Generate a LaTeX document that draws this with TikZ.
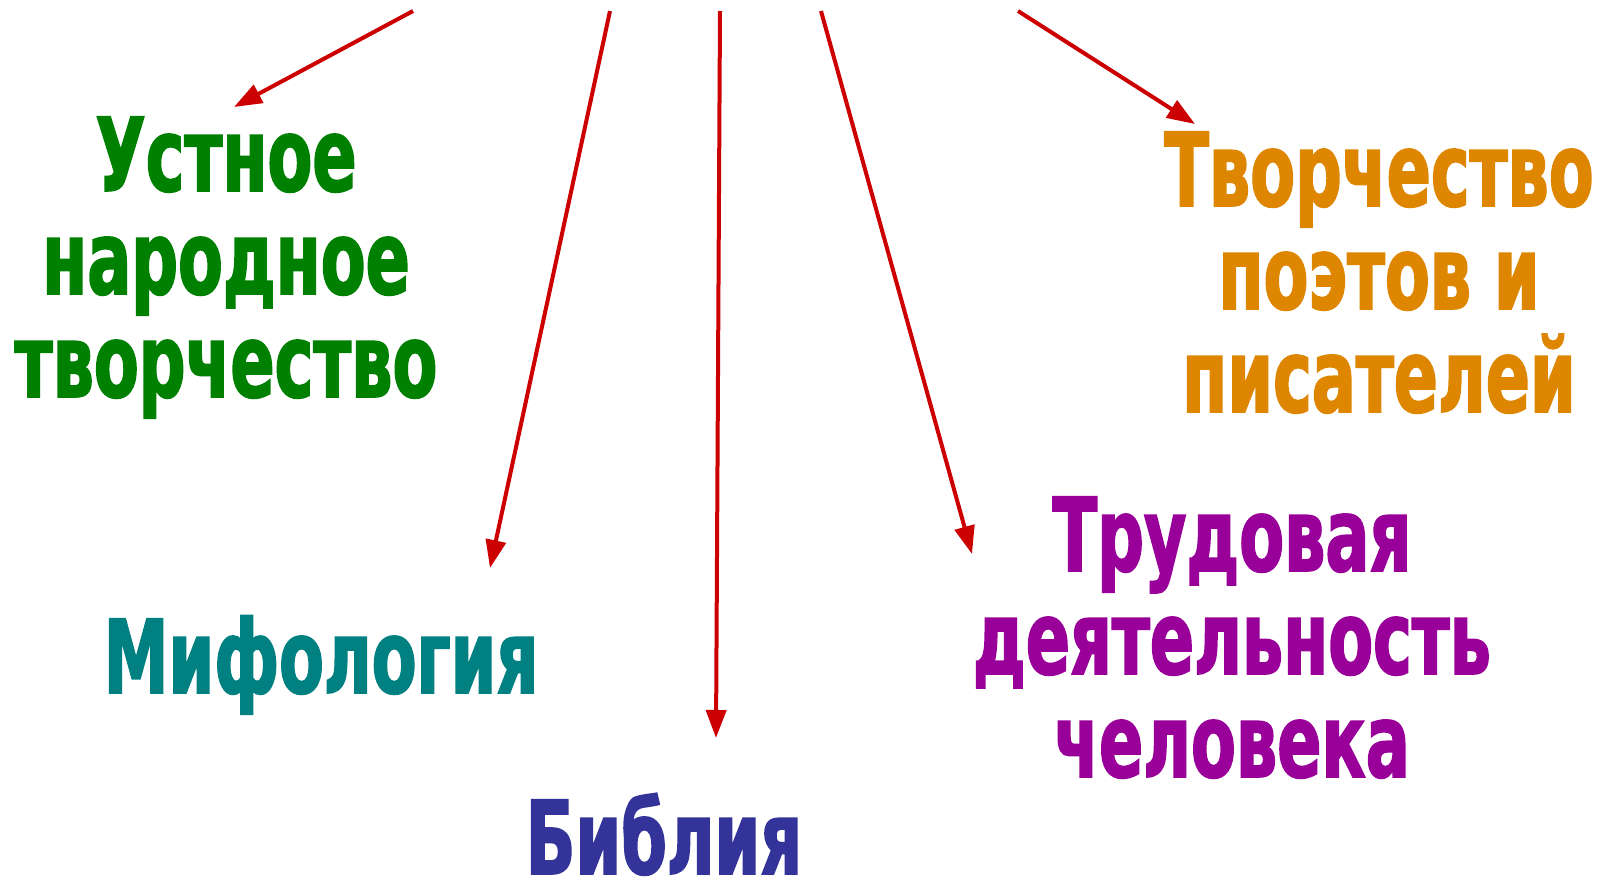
\documentclass[tikz,border=0pt]{standalone}
\usepackage{fontspec}
\usepackage{tikz}
\usetikzlibrary{arrows.meta, positioning, calc}
\newfontfamily\heavyfont{DejaVu Sans}[FakeStretch=0.64, FakeBold=1.6]
\definecolor{arrowred}{RGB}{204,0,0}
\definecolor{folkgreen}{RGB}{0,128,0}
\definecolor{poetorange}{RGB}{222,134,0}
\definecolor{mythteal}{RGB}{0,128,128}
\definecolor{bibleblue}{RGB}{51,51,153}
\definecolor{workpurple}{RGB}{153,0,153}
\tikzset{
    source/.style={
        inner sep=0, outer sep=0, anchor=base, align=center,
        font=\heavyfont\bfseries\fontsize{51}{51.5}\selectfont
    },
    feed/.style={
        arrowred, line width=2pt,
        -{Triangle[length=14pt, width=10pt]}
    }
}
\begin{document}
\begin{tikzpicture}[x=0.5pt, y=-0.5pt]
    \useasboundingbox (0,0) rectangle (1608,879);

    % text blocks (base = last line)
    \node[source, text=folkgreen] (folk) at (226,397)
        {Устное\\народное\\творчество};
    \node[source, text=poetorange] (poets) at (1379,412)
        {Творчество\\поэтов и\\писателей};
    \node[source, text=mythteal] (myth) at (321,693) {Мифология};
    \node[source, text=bibleblue] (bible) at (664,874) {Библия};
    \node[source, text=workpurple] (work) at (1232,777)
        {Трудовая\\деятельность\\человека};

    % arrow ends
    \coordinate (s1) at (413,11);   \coordinate (e1) at (234,107);
    \coordinate (s2) at (610,11);   \coordinate (e2) at (490,568);
    \coordinate (s3) at (720,11);   \coordinate (e3) at (716,738);
    \coordinate (s4) at (821,11);   \coordinate (e4) at (972,554);
    \coordinate (s5) at (1018,11);  \coordinate (e5) at (1195,124);

    % draw arrows
    \foreach \i in {1,...,5}
    {
        \draw[feed] (s\i) -- (e\i);
    }
\end{tikzpicture}
\end{document}
